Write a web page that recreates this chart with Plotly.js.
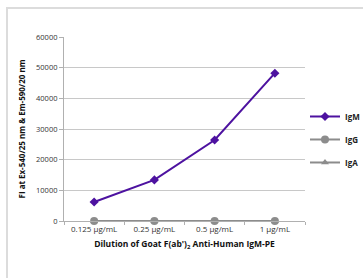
<!DOCTYPE html>
<html><head><meta charset="utf-8">
<script src="https://cdn.plot.ly/plotly-3.0.1.min.js"></script>
<style>
html,body{margin:0;padding:0;background:#fff;}
#frame{position:absolute;left:6px;top:7px;width:400px;height:300px;border:2px solid #dcdcdc;}
#chart{position:absolute;left:0;top:0;width:363px;height:278px;}
</style></head>
<body><div id="frame"></div><div id="chart"></div>
<script>
const categories = ['0.125 µg/mL','0.25 µg/mL','0.5 µg/mL','1 µg/mL'];
const igM = [6200, 13400, 26400, 48200];
const igG = [0, 0, 0, 0];
const igA = [0, 0, 0, 0];
const yTicks = [0,10000,20000,30000,40000,50000,60000];

const fam = 'Open Sans, Lato, sans-serif';
const font = {family:fam, size:7.5, color:'#333'};
const traces = [
  {x:categories, y:igA, name:'<b>IgA</b>', mode:'lines+markers', line:{color:'#8c8c8c',width:2}, marker:{symbol:'triangle-up',size:7,color:'#8c8c8c'}, cliponaxis:false, legendgroup:'c', legendrank:3},
  {x:categories, y:igG, name:'<b>IgG</b>', mode:'lines+markers', line:{color:'#8c8c8c',width:2}, marker:{symbol:'circle',size:8,color:'#8c8c8c'}, cliponaxis:false, legendgroup:'b', legendrank:2},
  {x:categories, y:igM, name:'<b>IgM</b>', mode:'lines+markers', line:{color:'#4d12a0',width:2}, marker:{symbol:'diamond',size:7,color:'#4d12a0'}, cliponaxis:false, legendgroup:'a', legendrank:1}
];
const layout = {
  width:363, height:278,
  margin:{l:64, r:58, t:37, b:57, autoexpand:false},
  paper_bgcolor:'rgba(0,0,0,0)', plot_bgcolor:'rgba(0,0,0,0)',
  font:font,
  showlegend:true,
  legend:{x:1.0, y:0.443, xanchor:'left', yanchor:'middle', font:{family:fam,size:8,color:'#222'}, traceorder:'grouped', tracegroupgap:4, itemwidth:30, bgcolor:'rgba(0,0,0,0)'},
  xaxis:{type:'category', range:[-0.5,3.5], showgrid:false, showline:true, linecolor:'#b0b0b0', linewidth:1,
    ticks:'outside', tickson:'boundaries', ticklen:3, tickcolor:'#b0b0b0', tickfont:{family:fam,size:8,color:'#333'},
    title:{text:'<b>Dilution of Goat F(ab\')<sub>2</sub> Anti-Human IgM-PE</b>', font:{family:fam,size:8.5,color:'#111'}, standoff:8}},
  yaxis:{range:[0,60000], tickvals:yTicks, ticktext:yTicks.map(String), showgrid:true, gridcolor:'#c8c8c8', gridwidth:1,
    showline:true, linecolor:'#b0b0b0', ticks:'outside', ticklen:4, tickcolor:'#b0b0b0', tickfont:font, zeroline:false,
    title:{text:'<b>FI at Ex-540/25 nm & Em-590/20 nm</b>', font:{family:fam,size:8,color:'#111'}, standoff:9}}
};
Plotly.newPlot('chart', traces, layout, {displayModeBar:false, staticPlot:true});
</script></body></html>
